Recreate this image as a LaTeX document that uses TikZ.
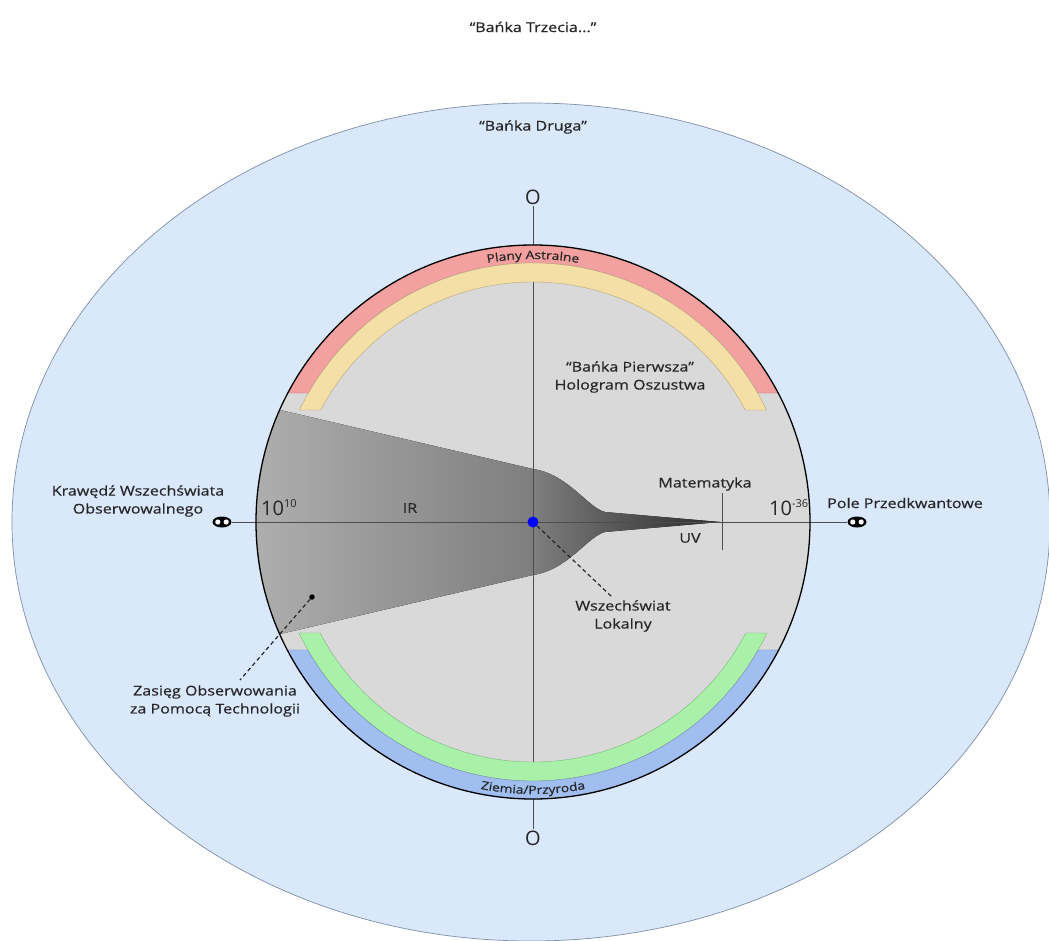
\documentclass[tikz,border=0pt]{standalone}
\usepackage{fontspec}
\setmainfont{Open Sans}
\newfontfamily\lblfont{Open Sans}[FakeStretch=1.2,FakeBold=0.5]
\usetikzlibrary{decorations.text,shapes.geometric}
\definecolor{txt}{HTML}{262626}
\definecolor{bubble}{HTML}{DAE8FC}
\definecolor{bubbleedge}{HTML}{7D8FA6}
\definecolor{innerfill}{HTML}{D9D9D9}
\definecolor{axisc}{HTML}{4D4D4D}
\definecolor{astral}{HTML}{F2A0A0}
\definecolor{sand}{HTML}{F4DFA6}
\definecolor{earth}{HTML}{A9F0A9}
\definecolor{nature}{HTML}{A0BEF0}
\definecolor{funA}{HTML}{B2B2B2}
\definecolor{funB}{HTML}{7E7E7E}
\definecolor{funC}{HTML}{5C5C5C}
\definecolor{funD}{HTML}{2C2C2C}
\pgfdeclarehorizontalshading{funnel}{100bp}{color(0bp)=(funA); color(25bp)=(funA); color(55.8bp)=(funB); color(63.2bp)=(funC); color(75bp)=(funD); color(100bp)=(funD)}
\newcommand{\bandfont}{\lblfont\fontsize{11.5}{11.5}\selectfont}
\begin{document}
\begin{tikzpicture}[x=1pt,y=1pt,
  lbl/.style={text=txt,font=\lblfont\fontsize{13.4}{18}\selectfont,align=center,inner sep=1pt},
  big/.style={text=txt,font=\fontsize{20}{20}\selectfont,inner sep=1pt},
  inf/.style={ellipse,fill=black,inner sep=0pt,minimum width=19pt,minimum height=11pt,
    path picture={\fill[white] ([xshift=-4.2pt]path picture bounding box.center) circle (2.6pt)
      ([xshift=4.2pt]path picture bounding box.center) circle (2.6pt);}},
  axis/.style={draw=axisc,line width=1pt},
  pointer/.style={draw=txt,line width=1.2pt,dash pattern=on 4pt off 3pt},
  dotsm/.style={circle,fill=black,inner sep=0pt,minimum size=5.5pt}]
\useasboundingbox (-533,-418) rectangle (516,522);
\fill[white] (-533,-418) rectangle (516,522);
% second bubble
\filldraw[fill=bubble,draw=bubbleedge,line width=.7pt] (-2,0) ellipse (519 and 419);
% first bubble
\fill[innerfill] (0,0) circle (277);
\begin{scope}
\clip (0,0) circle (277);
\fill[shading=funnel] (-300,123) -- (0,53) .. controls (35,48) and (55,14) .. (72,10) -- (187,0) -- (72,-10) .. controls (55,-14) and (35,-48) .. (0,-53) -- (-300,-123) -- cycle;
\end{scope}
% axes
\node[big] (oTop) at (0,325) {O};
\node[big] (oBot) at (0,-316) {O};
\node[inf] (infL) at (-311,0) {};
\node[inf] (infR) at (324,0) {};
\draw[axis] (oTop) -- (oBot);
\draw[axis] (infL) -- (infR);
\coordinate (tickT) at (189,29);
\coordinate (tickB) at (189,-28);
\draw[axis] (tickT) -- (tickB);
% bands
\filldraw[fill=astral,draw=astral!75!black,line width=.4pt] (27.76:277) arc (27.76:152.24:277) -- (150.13:259) arc (150.13:29.87:259) -- cycle;
\filldraw[fill=sand,draw=sand!75!black,line width=.4pt] (25.62:259) arc (25.62:154.38:259) -- (152.18:240) arc (152.18:27.82:240) -- cycle;
\filldraw[fill=earth,draw=earth!75!black,line width=.4pt] (-25.38:259) arc (-25.38:-154.62:259) -- (-152.45:240) arc (-152.45:-27.55:240) -- cycle;
\filldraw[fill=nature,draw=nature!75!black,line width=.4pt] (-27.52:277) arc (-27.52:-152.48:277) -- (-150.38:259) arc (-150.38:-29.62:259) -- cycle;
\draw[line width=1.3pt] (0,0) circle (277);
\path[decorate,decoration={text along path,text align=center,text color=txt,text={|\bandfont|Plany Astralne}}] (110:263) arc (110:70:263);
\path[decorate,decoration={text along path,text align=center,text color=txt,text={|\bandfont|Ziemia/Przyroda}}] (250:272) arc (250:290:272);
% labels
\node[lbl] (banka3) at (0,495) {“Bańka Trzecia...”};
\node[lbl] (banka2) at (0,395) {“Bańka Druga”};
\node[lbl] (banka1) at (97,145) {“Bańka Pierwsza”\\Hologram Oszustwa};
\node[lbl] (krawedz) at (-395,21) {Krawędź Wszechświata\\Obserwowalnego};
\node[lbl] (pole) at (372,19) {Pole Przedkwantowe};
\node[lbl] (ir) at (-123,14) {IR};
\node[lbl] (uv) at (157,-16) {UV};
\node[lbl] (mat) at (172,38) {Matematyka};
\node[big,anchor=base west] (eIR) at (-273,7) {10\raisebox{8pt}{\fontsize{11}{11}\selectfont 10}};
\node[big,anchor=base west] (eUV) at (235,7) {10\raisebox{8pt}{\fontsize{11}{11}\selectfont -36}};
\node[lbl] (lokalny) at (90,-94) {Wszechświat\\Lokalny};
\node[lbl] (zasieg) at (-318,-179) {Zasięg Obserwowania\\za Pomocą Technologii};
% pointers
\node[circle,fill=blue,inner sep=0pt,minimum size=11pt] (lokal) at (0,0) {};
\node[dotsm] (zdot) at (-221,-75) {};
\coordinate (lEnd) at (79,-75);
\coordinate (zEnd) at (-293,-158);
\draw[pointer] (lokal) -- (lEnd);
\draw[pointer] (zdot) -- (zEnd);
\end{tikzpicture}
\end{document}
